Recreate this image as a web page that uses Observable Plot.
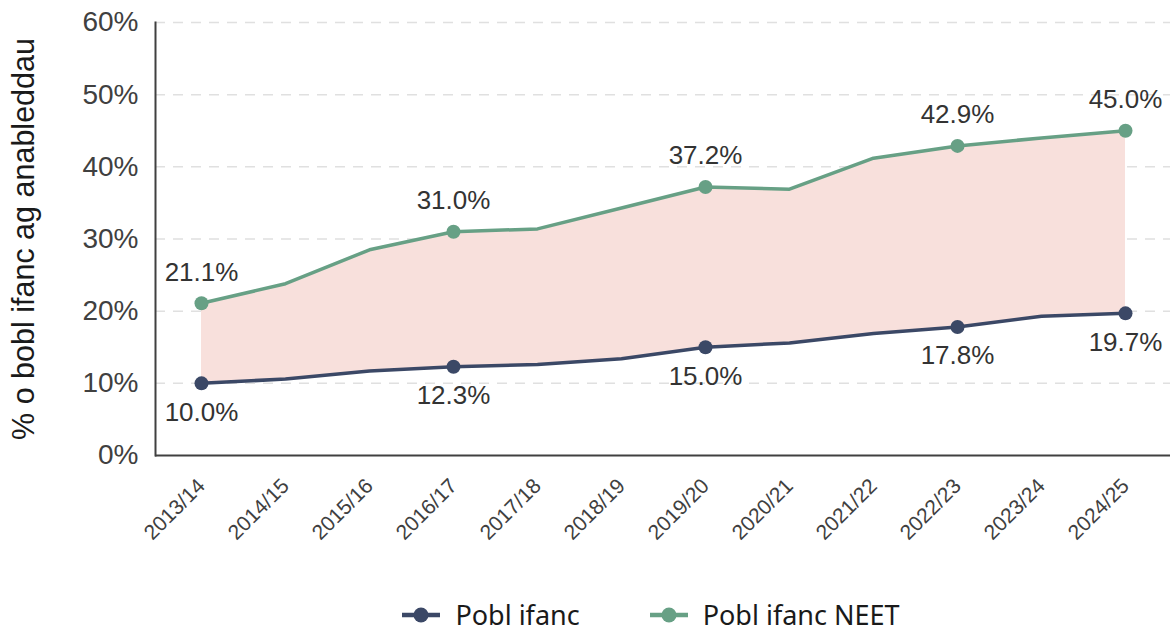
<!DOCTYPE html>
<html>
<head>
<meta charset="utf-8">
<script src="https://cdn.jsdelivr.net/npm/d3@7"></script>
<script src="https://cdn.jsdelivr.net/npm/@observablehq/plot@0.6"></script>
<style>
  body { margin: 0; background: #fff; font-family: "Liberation Sans", Arial, sans-serif; }
  #wrap { width: 1172px; height: 633px; position: relative; overflow: hidden; }
  #legend { position: absolute; left: 0; top: 598px; width: 1172px; display: flex; justify-content: center; gap: 70px; font-family: "Noto Sans", sans-serif; font-size: 27px; line-height: 34px; color: #1a1a1a; padding-left: 130px; box-sizing: border-box; }
  .item { display: flex; align-items: center; gap: 15px; }
</style>
</head>
<body>
<div id="wrap"><div id="chart"></div><div id="legend"></div></div>
<script>
const years = ["2013/14","2014/15","2015/16","2016/17","2017/18","2018/19","2019/20","2020/21","2021/22","2022/23","2023/24","2024/25"];
const youth = [10.0,10.6,11.7,12.3,12.6,13.4,15.0,15.6,16.9,17.8,19.3,19.7];
const neet = [21.1,23.8,28.5,31.0,31.4,34.3,37.2,36.9,41.2,42.9,44.0,45.0];
const labelledYears = ["2013/14","2016/17","2019/20","2022/23","2024/25"];
const yTicks = [0,10,20,30,40,50,60];
const seriesNames = ["Pobl ifanc","Pobl ifanc NEET"];
const colors = ["#3b4866","#67a085"];
const yTitle = "% o bobl ifanc ag anableddau";

const rows = years.map((y,i) => ({year: y, youth: youth[i], neet: neet[i]}));
const labelled = rows.filter(d => labelledYears.includes(d.year));
const fmt = v => v.toFixed(1) + "%";
const yFmt = d => d + "%";

const plot = Plot.plot({
  width: 1172,
  height: 590,
  marginLeft: 155,
  marginRight: 2,
  marginTop: 22,
  marginBottom: 135,
  style: {fontFamily: "'Liberation Sans', Arial, sans-serif", color: "#404040", background: "#fff"},
  x: {type: "point", domain: years, padding: 0.5},
  y: {domain: [0, 60]},
  marks: [
    Plot.ruleY(yTicks.filter(d => d > 0), {stroke: "#e0e0e0", strokeWidth: 1.5, strokeDasharray: "10,8"}),
    Plot.areaY(rows, {x: "year", y1: "youth", y2: "neet", fill: "#f8e0dc", curve: "linear"}),
    Plot.lineY(rows, {x: "year", y: "youth", stroke: colors[0], strokeWidth: 3.5}),
    Plot.lineY(rows, {x: "year", y: "neet", stroke: colors[1], strokeWidth: 3.5}),
    Plot.dot(labelled, {x: "year", y: "youth", r: 7, fill: colors[0]}),
    Plot.dot(labelled, {x: "year", y: "neet", r: 7, fill: colors[1]}),
    Plot.text(labelled, {x: "year", y: "neet", text: d => fmt(d.neet), dy: -31, fontSize: 26, fill: "#333"}),
    Plot.text(labelled, {x: "year", y: "youth", text: d => fmt(d.youth), dy: 29, fontSize: 26, fill: "#333"}),
    Plot.ruleY([0], {stroke: "#404040", strokeWidth: 2}),
    Plot.frame({anchor: "left", stroke: "#404040", strokeWidth: 2}),
    Plot.axisY(yTicks, {tickSize: 0, tickPadding: 17, tickFormat: yFmt, fontSize: 28, fill: "#404040",
      label: yTitle, labelAnchor: "center", labelArrow: "none", labelOffset: 143}),
    Plot.axisX({tickSize: 0, tickRotate: -45, tickPadding: 27, dx: 0, fontSize: 21, fill: "#404040", label: null})
  ]
});
document.getElementById("chart").appendChild(plot);

const sel = d3.select(plot);
const yTickTexts = new Set(yTicks.map(yFmt));
const yearSet = new Set(years);
sel.selectAll("text").each(function() {
  const t = this.textContent;
  const s = d3.select(this);
  if (t === yTitle) s.attr("font-size", 30.5).style("font-size", "30.5px").attr("fill", "#1a1a1a");
  else if (yTickTexts.has(t)) s.attr("font-size", 28).style("font-size", "28px");
  else if (yearSet.has(t)) s.attr("font-size", 21).style("font-size", "21px");
});

const legend = document.getElementById("legend");
seriesNames.forEach((name, i) => {
  const item = document.createElement("div");
  item.className = "item";
  item.innerHTML = `<svg width="38" height="18"><line x1="0" y1="9" x2="38" y2="9" stroke="${colors[i]}" stroke-width="4.5"/><circle cx="19" cy="9" r="7.5" fill="${colors[i]}"/></svg><span>${name}</span>`;
  legend.appendChild(item);
});
</script>
</body>
</html>
